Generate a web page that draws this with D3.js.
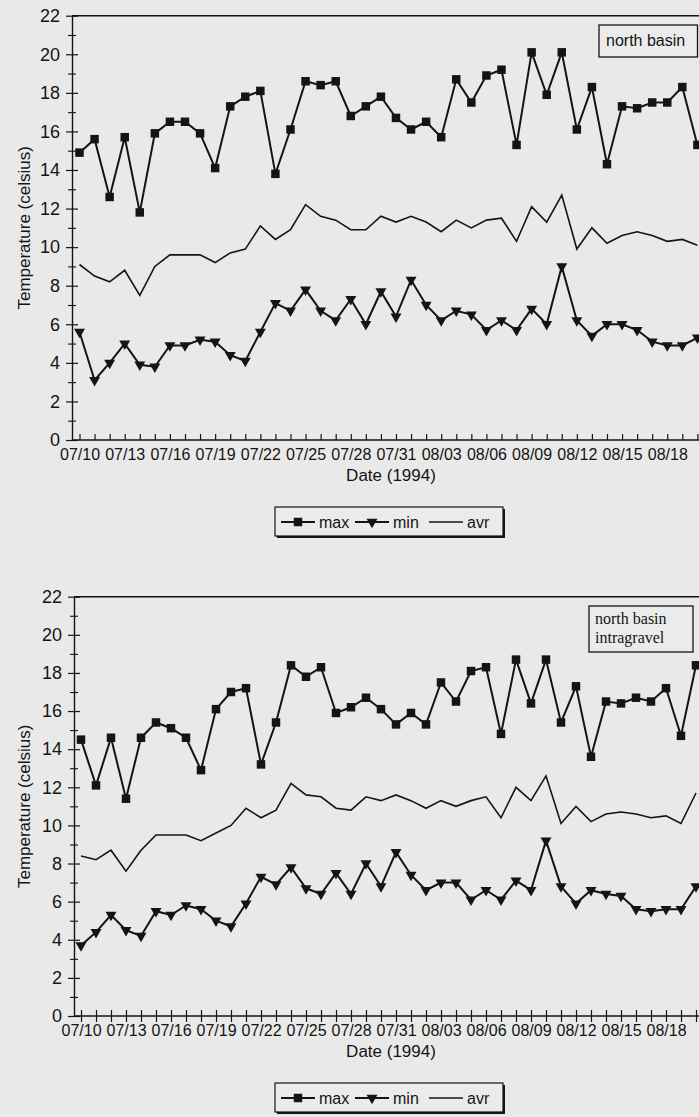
<!DOCTYPE html>
<html>
<head>
<meta charset="utf-8">
<script src="https://cdn.jsdelivr.net/npm/d3@7"></script>
<style>
  body { margin: 0; background: #e9e9e9; }
  svg { display: block; font-family: "Liberation Sans", Arial, sans-serif; }
</style>
</head>
<body>
<svg id="chart" width="699" height="1117"></svg>
<script>
// days of record (1994)
var dates = ["07/10","07/11","07/12","07/13","07/14","07/15","07/16","07/17","07/18","07/19",
             "07/20","07/21","07/22","07/23","07/24","07/25","07/26","07/27","07/28","07/29",
             "07/30","07/31","08/01","08/02","08/03","08/04","08/05","08/06","08/07","08/08",
             "08/09","08/10","08/11","08/12","08/13","08/14","08/15","08/16","08/17","08/18",
             "08/19","08/20"];
var tickLabels = ["07/10","07/13","07/16","07/19","07/22","07/25","07/28","07/31",
                  "08/03","08/06","08/09","08/12","08/15","08/18"];

// north basin
var northMax = [14.9,15.6,12.6,15.7,11.8,15.9,16.5,16.5,15.9,14.1,17.3,17.8,18.1,13.8,16.1,18.6,18.4,18.6,16.8,17.3,
                17.8,16.7,16.1,16.5,15.7,18.7,17.5,18.9,19.2,15.3,20.1,17.9,20.1,16.1,18.3,14.3,17.3,17.2,17.5,17.5,
                18.3,15.3];
var northMin = [5.6,3.1,4.0,5.0,3.9,3.8,4.9,4.9,5.2,5.1,4.4,4.1,5.6,7.1,6.7,7.8,6.7,6.2,7.3,6.0,
                7.7,6.4,8.3,7.0,6.2,6.7,6.5,5.7,6.2,5.7,6.8,6.0,9.0,6.2,5.4,6.0,6.0,5.7,5.1,4.9,
                4.9,5.3];
var northAvr = [9.1,8.5,8.2,8.8,7.5,9.0,9.6,9.6,9.6,9.2,9.7,9.9,11.1,10.4,10.9,12.2,11.6,11.4,10.9,10.9,
                11.6,11.3,11.6,11.3,10.8,11.4,11.0,11.4,11.5,10.3,12.1,11.3,12.7,9.9,11.0,10.2,10.6,10.8,10.6,10.3,
                10.4,10.1];

// north basin intragravel
var gravelMax = [14.5,12.1,14.6,11.4,14.6,15.4,15.1,14.6,12.9,16.1,17.0,17.2,13.2,15.4,18.4,17.8,18.3,15.9,16.2,16.7,
                 16.1,15.3,15.9,15.3,17.5,16.5,18.1,18.3,14.8,18.7,16.4,18.7,15.4,17.3,13.6,16.5,16.4,16.7,16.5,17.2,
                 14.7,18.4];
var gravelMin = [3.7,4.4,5.3,4.5,4.2,5.5,5.3,5.8,5.6,5.0,4.7,5.9,7.3,6.9,7.8,6.7,6.4,7.5,6.4,8.0,
                 6.8,8.6,7.4,6.6,7.0,7.0,6.1,6.6,6.1,7.1,6.6,9.2,6.8,5.9,6.6,6.4,6.3,5.6,5.5,5.6,
                 5.6,6.8];
var gravelAvr = [8.4,8.2,8.7,7.6,8.7,9.5,9.5,9.5,9.2,9.6,10.0,10.9,10.4,10.8,12.2,11.6,11.5,10.9,10.8,11.5,
                 11.3,11.6,11.3,10.9,11.3,11.0,11.3,11.5,10.4,12.0,11.3,12.6,10.1,11.0,10.2,10.6,10.7,10.6,10.4,10.5,
                 10.1,11.7];

var seriesNames = ["max", "min", "avr"];
var ink = "#141414";
var W = 699;

var parseDay = d3.timeParse("%Y/%m/%d");
var dayOf = function(s) { return parseDay("1994/" + s); };

var svg = d3.select("#chart");
svg.append("rect").attr("width", W).attr("height", 1117).attr("fill", "#e9e9e9");

function drawPanel(p) {
  var g = svg.append("g");

  var x = d3.scaleTime()
      .domain([dayOf(dates[0]), dayOf(dates[dates.length - 1])])
      .range([p.xFirst, p.xLast]);
  var y = d3.scaleLinear().domain([0, 22]).range([p.yBottom, p.yTop]);

  // frame: top line + axis lines
  g.append("line").attr("x1", p.axisX).attr("x2", W).attr("y1", p.yTop).attr("y2", p.yTop)
      .attr("stroke", ink).attr("stroke-width", 1.4);

  // y axis, major ticks
  var yAxis = g.append("g").attr("transform", "translate(" + p.axisX + ",0)")
      .call(d3.axisLeft(y).tickValues(d3.range(0, 23, 2)).tickSize(6).tickPadding(6).tickSizeOuter(0));
  yAxis.select(".domain").attr("stroke", ink).attr("stroke-width", 1.4);
  yAxis.selectAll(".tick line").attr("x1", -6).attr("x2", 6).attr("stroke", ink).attr("stroke-width", 1.2);
  yAxis.selectAll(".tick text").attr("font-size", 18).attr("fill", ink)
      .attr("font-family", "'Liberation Sans', Arial, sans-serif");

  // y axis, minor ticks
  var yMinor = g.append("g").attr("transform", "translate(" + p.axisX + ",0)")
      .call(d3.axisLeft(y).tickValues(d3.range(1, 22, 2)).tickSize(4).tickFormat(""));
  yMinor.select(".domain").remove();
  yMinor.selectAll(".tick line").attr("x1", -4).attr("x2", 4).attr("stroke", ink).attr("stroke-width", 1.1);

  // x axis
  var xAxis = g.append("g").attr("transform", "translate(0," + p.yBottom + ")")
      .call(d3.axisBottom(x)
        .tickValues(dates.map(dayOf))
        .tickSize(6)
        .tickFormat(function(d) {
          var s = d3.timeFormat("%m/%d")(d);
          return tickLabels.indexOf(s) >= 0 ? s : "";
        }));
  xAxis.select(".domain").remove();
  xAxis.append("line").attr("x1", p.axisX).attr("x2", W).attr("stroke", ink).attr("stroke-width", 1.4);
  xAxis.selectAll(".tick line")
      .attr("y1", p.crossTicks ? -6 : 0).attr("y2", p.crossTicks ? 6 : -6)
      .attr("stroke", ink).attr("stroke-width", 1.2);
  xAxis.selectAll(".tick text").attr("font-size", 16).attr("fill", ink).attr("y", 9)
      .attr("font-family", "'Liberation Sans', Arial, sans-serif");

  // axis titles
  g.append("text")
      .attr("transform", "translate(" + p.yLabelX + "," + ((p.yTop + p.yBottom) / 2) + ") rotate(-90)")
      .attr("text-anchor", "middle").attr("font-size", 17).attr("fill", ink)
      .text("Temperature (celsius)");
  g.append("text").attr("x", 391).attr("y", p.yBottom + 41)
      .attr("text-anchor", "middle").attr("font-size", 17).attr("fill", ink)
      .text("Date (1994)");

  // series
  var line = function(vals) {
    return d3.line()
      .x(function(d, i) { return x(dayOf(dates[i])); })
      .y(function(d) { return y(d); })(vals);
  };
  g.append("path").attr("d", line(p.avr)).attr("fill", "none").attr("stroke", ink).attr("stroke-width", 1.6);
  g.append("path").attr("d", line(p.min)).attr("fill", "none").attr("stroke", ink).attr("stroke-width", 2);
  g.append("path").attr("d", line(p.max)).attr("fill", "none").attr("stroke", ink).attr("stroke-width", 2);

  var square = d3.symbol().type(d3.symbolSquare).size(72);
  var tri = d3.symbol().type(d3.symbolTriangle).size(52);

  g.selectAll("path.maxpt").data(p.max).enter().append("path")
      .attr("class", "maxpt").attr("d", square).attr("fill", ink)
      .attr("transform", function(d, i) { return "translate(" + x(dayOf(dates[i])) + "," + y(d) + ")"; });
  g.selectAll("path.minpt").data(p.min).enter().append("path")
      .attr("class", "minpt").attr("d", tri).attr("fill", ink)
      .attr("transform", function(d, i) { return "translate(" + x(dayOf(dates[i])) + "," + y(d) + ") rotate(180)"; });

  // site label box
  var b = p.box;
  g.append("rect").attr("x", b.x).attr("y", b.y).attr("width", b.w).attr("height", b.h)
      .attr("fill", "#ebebeb").attr("stroke", ink).attr("stroke-width", 1.3);
  p.title.forEach(function(t, i) {
    g.append("text").attr("x", b.x + b.padX).attr("y", b.y + b.firstBase + i * 19)
        .attr("font-size", 16).attr("fill", ink).attr("font-family", p.titleFont)
        .text(t);
  });

  // legend
  var lg = g.append("g").attr("transform", "translate(275," + p.legendY + ")");
  lg.append("rect").attr("x", 2).attr("y", 2).attr("width", 228).attr("height", 29).attr("fill", ink);
  lg.append("rect").attr("width", 228).attr("height", 29).attr("fill", "#ebebeb")
      .attr("stroke", ink).attr("stroke-width", 1.2);
  var items = lg.selectAll("g.item").data(seriesNames).enter().append("g")
      .attr("class", "item")
      .attr("transform", function(d, i) { return "translate(" + (6 + i * 74) + ",15)"; });
  items.append("line").attr("x1", 0).attr("x2", 34).attr("stroke", ink)
      .attr("stroke-width", function(d) { return d == "avr" ? 1.6 : 2; });
  items.filter(function(d) { return d == "max"; }).append("path")
      .attr("d", square).attr("fill", ink).attr("transform", "translate(17,0)");
  items.filter(function(d) { return d == "min"; }).append("path")
      .attr("d", tri).attr("fill", ink).attr("transform", "translate(17,0) rotate(180)");
  items.append("text").attr("x", 38).attr("y", 6).attr("font-size", 16).attr("fill", ink)
      .text(function(d) { return d; });
}

drawPanel({
  yTop: 15.7, yBottom: 440, axisX: 72, xFirst: 79.5, xLast: 697.4,
  yLabelX: 30, crossTicks: false, legendY: 507,
  max: northMax, min: northMin, avr: northAvr,
  title: ["north basin"], titleFont: "'Liberation Sans', Arial, sans-serif",
  box: {x: 599, y: 25, w: 98.5, h: 32, padX: 7, firstBase: 21}
});

drawPanel({
  yTop: 596.7, yBottom: 1016, axisX: 74, xFirst: 81, xLast: 696,
  yLabelX: 30, crossTicks: true, legendY: 1083,
  max: gravelMax, min: gravelMin, avr: gravelAvr,
  title: ["north basin", "intragravel"], titleFont: "'Liberation Serif', 'Times New Roman', serif",
  box: {x: 589, y: 606, w: 104, h: 46, padX: 6, firstBase: 18}
});
</script>
</body>
</html>
